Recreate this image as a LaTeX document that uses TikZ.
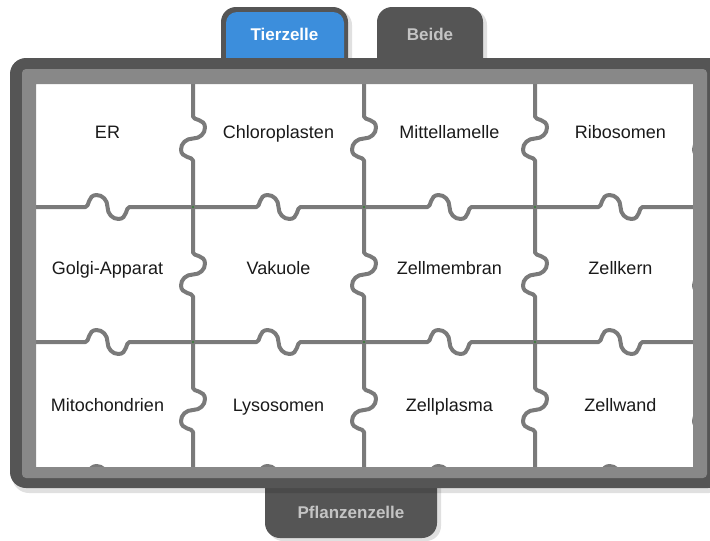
\documentclass[tikz,border=0pt]{standalone}
\usepackage{fontspec}
\setmainfont{Liberation Sans}
\definecolor{framedark}{HTML}{555555}
\definecolor{framelight}{HTML}{888888}
\definecolor{puzzleline}{HTML}{7A7A7A}
\definecolor{tabblue}{HTML}{3C8EDC}
\definecolor{tabtext}{HTML}{C4C4C4}
\definecolor{dotgreen}{HTML}{3F7A3F}
\definecolor{labeltext}{HTML}{1A1A1A}
\tikzset{
  puz/.style={draw=puzzleline, line width=4pt, line join=round},
  lbl/.style={text=labeltext, font=\fontsize{18}{22}\selectfont, inner sep=0pt, anchor=base},
  tablbl/.style={font=\fontsize{17}{20}\selectfont\bfseries, inner sep=0pt, anchor=base},
}
\newcommand\hseg[3]{%
  \pgfmathsetmacro\cc{(#1+#2)/2}%
  \draw[puz] (#1,#3) -- (\cc-22,#3)
    .. controls (\cc-18,#3) and (\cc-20,#3-12) .. (\cc-11,#3-12)
    .. controls (\cc-5,#3-12) and (\cc,#3-7) .. (\cc,#3)
    .. controls (\cc,#3+7) and (\cc+5,#3+12) .. (\cc+11,#3+12)
    .. controls (\cc+20,#3+12) and (\cc+18,#3) .. (\cc+22,#3) -- (#2,#3);}
\newcommand\vseg[3]{%
  \pgfmathsetmacro\cc{(#1+#2)/2}%
  \draw[puz] (#3,#1) -- (#3,\cc-22)
    .. controls (#3,\cc-18) and (#3+12,\cc-20) .. (#3+12,\cc-11)
    .. controls (#3+12,\cc-5) and (#3+7,\cc) .. (#3,\cc)
    .. controls (#3-7,\cc) and (#3-12,\cc+5) .. (#3-12,\cc+11)
    .. controls (#3-12,\cc+20) and (#3,\cc+18) .. (#3,\cc+22) -- (#3,#2);}
\begin{document}
\begin{tikzpicture}[x=1pt,y=-1pt]
\useasboundingbox (0,0) rectangle (710,541);
\clip (0,0) rectangle (710,541);
\fill[white] (0,0) rectangle (710,541);
% tab shadows
\fill[black, opacity=0.12, rounded corners=15] (224,10) rectangle (352,90);
\fill[black, opacity=0.12, rounded corners=15] (380,10) rectangle (487,90);
\fill[black, opacity=0.12, rounded corners=15] (268,450) rectangle (441,541);
% tabs
\fill[framedark, rounded corners=15] (221,7) rectangle (348,90);
\fill[tabblue, rounded corners=11] (226,12) rectangle (344,90);
\fill[framedark, rounded corners=15] (377,7) rectangle (483,90);
\fill[framedark, rounded corners=15] (265,450) rectangle (437,538);
\node[tablbl, text=white] (tier) at (284.5,40) {Tierzelle};
\node[tablbl, text=tabtext] (beide) at (430,40) {Beide};
\node[tablbl, text=tabtext] (pflanze) at (351,518) {Pflanzenzelle};
% frame shadow
\fill[black, opacity=0.12, rounded corners=17] (12,61) rectangle (726,493);
% frame
\fill[framedark, rounded corners=16] (10,58) rectangle (724,488);
\fill[white] (36,84) rectangle (693,467);
% puzzle grid
\begin{scope}
\clip (24,71) rectangle (705,476);
\foreach \yy in {70,207,342,478}{
  \hseg{22}{193}{\yy}\hseg{193}{364}{\yy}\hseg{364}{535}{\yy}\hseg{535}{706}{\yy}}
\foreach \xx in {22,193,364,535,706}{
  \vseg{70}{207}{\xx}\vseg{207}{342}{\xx}\vseg{342}{478}{\xx}}
\foreach \xx in {193,364,535}{\foreach \yy in {207,342}{
  \fill[dotgreen] (\xx,\yy) circle[radius=1.3];}}
\end{scope}
% light inner border
\fill[framelight, even odd rule, rounded corners=4] (22,69) rectangle (707,478) [sharp corners] (36,84) rectangle (693,467);
% labels
\node[lbl] (er) at (107.5,138.5) {ER};
\node[lbl] (chloro) at (278.5,138.5) {Chloroplasten};
\node[lbl] (mittel) at (449.5,138.5) {Mittellamelle};
\node[lbl] (ribo) at (620.5,138.5) {Ribosomen};
\node[lbl] (golgi) at (107.5,274.5) {Golgi-Apparat};
\node[lbl] (vakuole) at (278.5,274.5) {Vakuole};
\node[lbl] (membran) at (449.5,274.5) {Zellmembran};
\node[lbl] (kern) at (620.5,274.5) {Zellkern};
\node[lbl] (mito) at (107.5,411.5) {Mitochondrien};
\node[lbl] (lyso) at (278.5,411.5) {Lysosomen};
\node[lbl] (plasma) at (449.5,411.5) {Zellplasma};
\node[lbl] (wand) at (620.5,411.5) {Zellwand};
\end{tikzpicture}
\end{document}
